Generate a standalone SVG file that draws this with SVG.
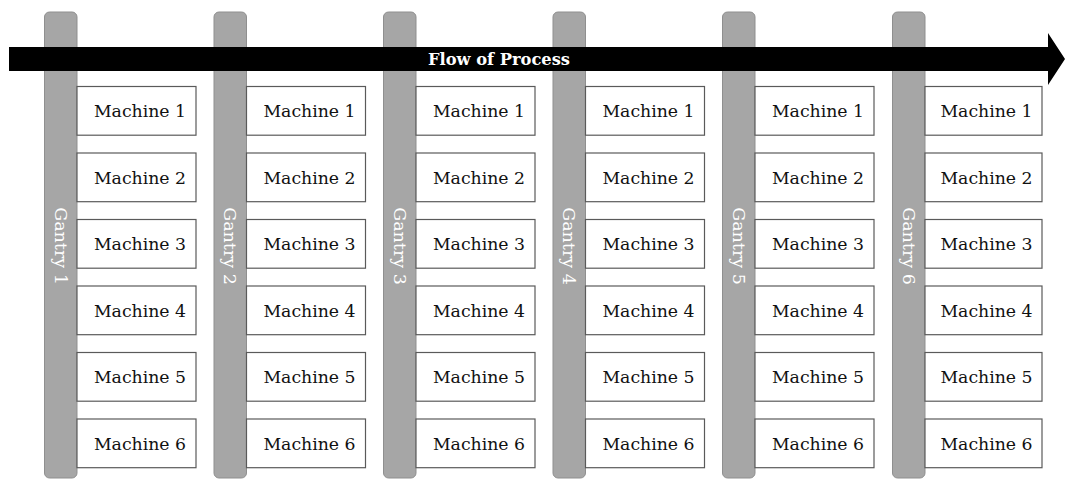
<svg xmlns="http://www.w3.org/2000/svg" width="1065" height="479" viewBox="0 0 1065 479">
  <style>
    .gantry { fill: #a6a6a6; stroke: #8f8f8f; stroke-width: 1; }
    .glabel { font-family: "DejaVu Serif", "Liberation Serif", serif; font-size: 17.5px; fill: #ffffff; text-anchor: middle; dominant-baseline: central; }
    .box { fill: #ffffff; stroke: #5a5a5a; stroke-width: 1.2; }
    .mlabel { font-family: "DejaVu Serif", "Liberation Serif", serif; font-size: 17.3px; fill: #111111; text-anchor: middle; dominant-baseline: central; }
    .flow { fill: #000000; }
    .flabel { font-family: "DejaVu Serif", "Liberation Serif", serif; font-size: 16.3px; font-weight: bold; fill: #ffffff; text-anchor: middle; dominant-baseline: central; }
  </style>
  <rect width="1065" height="479" fill="#ffffff"/>

  <!-- machine stations, one column per gantry -->
  <g id="col1">
    <g id="gantry1"><rect class="gantry" x="44.5" y="12" width="32.5" height="466" rx="5"/><text class="glabel" transform="translate(60.5,246) rotate(90)">Gantry 1</text></g>
    <g id="g1m1"><rect class="box" x="77" y="86.5" width="119" height="48.7"/><text class="mlabel" x="140" y="111">Machine 1</text></g>
    <g id="g1m2"><rect class="box" x="77" y="153" width="119" height="48.7"/><text class="mlabel" x="140" y="177.5">Machine 2</text></g>
    <g id="g1m3"><rect class="box" x="77" y="219.5" width="119" height="48.7"/><text class="mlabel" x="140" y="244">Machine 3</text></g>
    <g id="g1m4"><rect class="box" x="77" y="286" width="119" height="48.7"/><text class="mlabel" x="140" y="310.5">Machine 4</text></g>
    <g id="g1m5"><rect class="box" x="77" y="352.5" width="119" height="48.7"/><text class="mlabel" x="140" y="377">Machine 5</text></g>
    <g id="g1m6"><rect class="box" x="77" y="419" width="119" height="48.7"/><text class="mlabel" x="140" y="443.5">Machine 6</text></g>
  </g>
  <g id="col2">
    <g id="gantry2"><rect class="gantry" x="214" y="12" width="32.5" height="466" rx="5"/><text class="glabel" transform="translate(230,246) rotate(90)">Gantry 2</text></g>
    <g id="g2m1"><rect class="box" x="246.5" y="86.5" width="119" height="48.7"/><text class="mlabel" x="309.5" y="111">Machine 1</text></g>
    <g id="g2m2"><rect class="box" x="246.5" y="153" width="119" height="48.7"/><text class="mlabel" x="309.5" y="177.5">Machine 2</text></g>
    <g id="g2m3"><rect class="box" x="246.5" y="219.5" width="119" height="48.7"/><text class="mlabel" x="309.5" y="244">Machine 3</text></g>
    <g id="g2m4"><rect class="box" x="246.5" y="286" width="119" height="48.7"/><text class="mlabel" x="309.5" y="310.5">Machine 4</text></g>
    <g id="g2m5"><rect class="box" x="246.5" y="352.5" width="119" height="48.7"/><text class="mlabel" x="309.5" y="377">Machine 5</text></g>
    <g id="g2m6"><rect class="box" x="246.5" y="419" width="119" height="48.7"/><text class="mlabel" x="309.5" y="443.5">Machine 6</text></g>
  </g>
  <g id="col3">
    <g id="gantry3"><rect class="gantry" x="383.5" y="12" width="32.5" height="466" rx="5"/><text class="glabel" transform="translate(399.5,246) rotate(90)">Gantry 3</text></g>
    <g id="g3m1"><rect class="box" x="416" y="86.5" width="119" height="48.7"/><text class="mlabel" x="479" y="111">Machine 1</text></g>
    <g id="g3m2"><rect class="box" x="416" y="153" width="119" height="48.7"/><text class="mlabel" x="479" y="177.5">Machine 2</text></g>
    <g id="g3m3"><rect class="box" x="416" y="219.5" width="119" height="48.7"/><text class="mlabel" x="479" y="244">Machine 3</text></g>
    <g id="g3m4"><rect class="box" x="416" y="286" width="119" height="48.7"/><text class="mlabel" x="479" y="310.5">Machine 4</text></g>
    <g id="g3m5"><rect class="box" x="416" y="352.5" width="119" height="48.7"/><text class="mlabel" x="479" y="377">Machine 5</text></g>
    <g id="g3m6"><rect class="box" x="416" y="419" width="119" height="48.7"/><text class="mlabel" x="479" y="443.5">Machine 6</text></g>
  </g>
  <g id="col4">
    <g id="gantry4"><rect class="gantry" x="553" y="12" width="32.5" height="466" rx="5"/><text class="glabel" transform="translate(569,246) rotate(90)">Gantry 4</text></g>
    <g id="g4m1"><rect class="box" x="585.5" y="86.5" width="119" height="48.7"/><text class="mlabel" x="648.5" y="111">Machine 1</text></g>
    <g id="g4m2"><rect class="box" x="585.5" y="153" width="119" height="48.7"/><text class="mlabel" x="648.5" y="177.5">Machine 2</text></g>
    <g id="g4m3"><rect class="box" x="585.5" y="219.5" width="119" height="48.7"/><text class="mlabel" x="648.5" y="244">Machine 3</text></g>
    <g id="g4m4"><rect class="box" x="585.5" y="286" width="119" height="48.7"/><text class="mlabel" x="648.5" y="310.5">Machine 4</text></g>
    <g id="g4m5"><rect class="box" x="585.5" y="352.5" width="119" height="48.7"/><text class="mlabel" x="648.5" y="377">Machine 5</text></g>
    <g id="g4m6"><rect class="box" x="585.5" y="419" width="119" height="48.7"/><text class="mlabel" x="648.5" y="443.5">Machine 6</text></g>
  </g>
  <g id="col5">
    <g id="gantry5"><rect class="gantry" x="722.5" y="12" width="32.5" height="466" rx="5"/><text class="glabel" transform="translate(738.5,246) rotate(90)">Gantry 5</text></g>
    <g id="g5m1"><rect class="box" x="755" y="86.5" width="119" height="48.7"/><text class="mlabel" x="818" y="111">Machine 1</text></g>
    <g id="g5m2"><rect class="box" x="755" y="153" width="119" height="48.7"/><text class="mlabel" x="818" y="177.5">Machine 2</text></g>
    <g id="g5m3"><rect class="box" x="755" y="219.5" width="119" height="48.7"/><text class="mlabel" x="818" y="244">Machine 3</text></g>
    <g id="g5m4"><rect class="box" x="755" y="286" width="119" height="48.7"/><text class="mlabel" x="818" y="310.5">Machine 4</text></g>
    <g id="g5m5"><rect class="box" x="755" y="352.5" width="119" height="48.7"/><text class="mlabel" x="818" y="377">Machine 5</text></g>
    <g id="g5m6"><rect class="box" x="755" y="419" width="119" height="48.7"/><text class="mlabel" x="818" y="443.5">Machine 6</text></g>
  </g>
  <g id="col6">
    <g id="gantry6"><rect class="gantry" x="892.5" y="12" width="32.5" height="466" rx="5"/><text class="glabel" transform="translate(908.5,246) rotate(90)">Gantry 6</text></g>
    <g id="g6m1"><rect class="box" x="925" y="86.5" width="117" height="48.7"/><text class="mlabel" x="986.5" y="111">Machine 1</text></g>
    <g id="g6m2"><rect class="box" x="925" y="153" width="117" height="48.7"/><text class="mlabel" x="986.5" y="177.5">Machine 2</text></g>
    <g id="g6m3"><rect class="box" x="925" y="219.5" width="117" height="48.7"/><text class="mlabel" x="986.5" y="244">Machine 3</text></g>
    <g id="g6m4"><rect class="box" x="925" y="286" width="117" height="48.7"/><text class="mlabel" x="986.5" y="310.5">Machine 4</text></g>
    <g id="g6m5"><rect class="box" x="925" y="352.5" width="117" height="48.7"/><text class="mlabel" x="986.5" y="377">Machine 5</text></g>
    <g id="g6m6"><rect class="box" x="925" y="419" width="117" height="48.7"/><text class="mlabel" x="986.5" y="443.5">Machine 6</text></g>
  </g>

  <!-- process direction arrow across all gantries -->
  <g id="connectors">
    <g id="flow">
      <polygon class="flow" points="9,47 1048,47 1048,33 1065,59 1048,85 1048,71 9,71"/>
      <text class="flabel" x="499" y="59">Flow of Process</text>
    </g>
  </g>
</svg>
